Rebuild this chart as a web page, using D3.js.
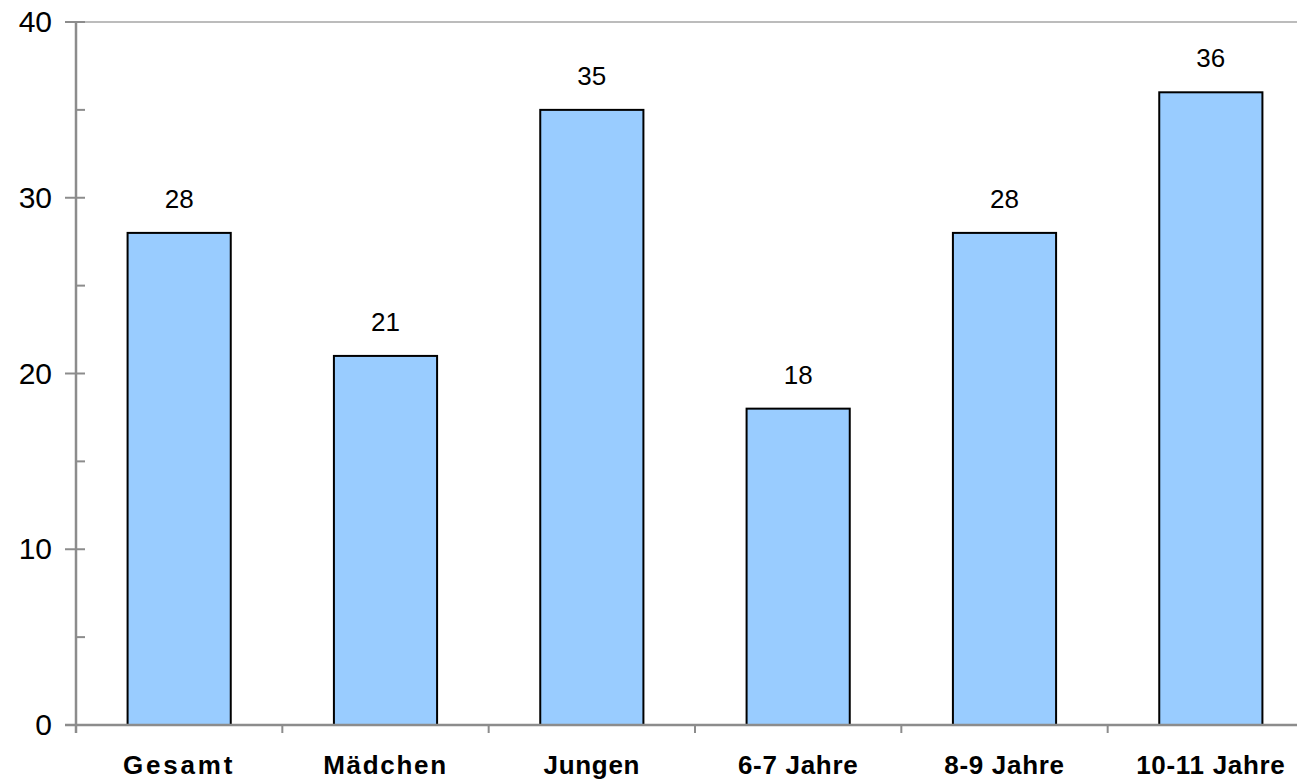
<!DOCTYPE html>
<html>
<head>
<meta charset="utf-8">
<script src="https://cdn.jsdelivr.net/npm/d3@7"></script>
<style>
  html, body { margin: 0; padding: 0; background: #fff; overflow: hidden; }
  svg { display: block; font-family: "Liberation Sans", Arial, sans-serif; }
</style>
</head>
<body>
<div id="chart"></div>
<script>
// chart data
const categories = ['Gesamt', 'Mädchen', 'Jungen', '6-7 Jahre', '8-9 Jahre', '10-11 Jahre'];
const values = [28, 21, 35, 18, 28, 36];
const yTicks = [0, 10, 20, 30, 40];
const yMinorTicks = [5, 15, 25, 35];

const width = 1297, height = 779;
const margin = { left: 76, right: 1314, top: 22, bottom: 725 };

const svg = d3.select('#chart').append('svg')
    .attr('width', width)
    .attr('height', height);

const x = d3.scaleBand()
    .domain(categories)
    .range([margin.left, margin.right])
    .paddingInner(0.5)
    .paddingOuter(0.25);

const y = d3.scaleLinear()
    .domain([0, 40])
    .range([margin.bottom, margin.top]);

const axisColor = '#8c8c8c';

// top gridline at 40
svg.append('line')
    .attr('x1', margin.left).attr('x2', width)
    .attr('y1', y(40)).attr('y2', y(40))
    .style('stroke', '#a6a6a6')
    .style('stroke-width', 1.5);

// bars
svg.selectAll('.bar')
    .data(values)
    .enter().append('rect')
    .attr('class', 'bar')
    .attr('x', (d, i) => x(categories[i]))
    .attr('y', d => y(d))
    .attr('width', x.bandwidth())
    .attr('height', d => y(0) - y(d))
    .style('fill', '#99ccff')
    .style('stroke', '#000')
    .style('stroke-width', 2);

// value labels
svg.selectAll('.val')
    .data(values)
    .enter().append('text')
    .attr('class', 'val')
    .attr('x', (d, i) => x(categories[i]) + x.bandwidth() / 2)
    .attr('y', d => y(d) - 25)
    .attr('text-anchor', 'middle')
    .style('font-size', '26px')
    .style('fill', '#000')
    .text(d => d);

// y axis
const yAxis = svg.append('g');
yAxis.append('line')
    .attr('x1', margin.left).attr('x2', margin.left)
    .attr('y1', margin.top).attr('y2', margin.bottom + 8)
    .style('stroke', axisColor)
    .style('stroke-width', 2.5);

yAxis.selectAll('.major')
    .data(yTicks)
    .enter().append('line')
    .attr('x1', margin.left - 11).attr('x2', margin.left + 9)
    .attr('y1', d => y(d)).attr('y2', d => y(d))
    .style('stroke', axisColor)
    .style('stroke-width', 2);

yAxis.selectAll('.minor')
    .data(yMinorTicks)
    .enter().append('line')
    .attr('x1', margin.left).attr('x2', margin.left + 9)
    .attr('y1', d => y(d)).attr('y2', d => y(d))
    .style('stroke', axisColor)
    .style('stroke-width', 2);

yAxis.selectAll('.ylab')
    .data(yTicks)
    .enter().append('text')
    .attr('x', 52)
    .attr('y', d => y(d) + 10)
    .attr('text-anchor', 'end')
    .style('font-size', '30px')
    .style('fill', '#000')
    .text(d => d);

// x axis baseline + ticks between bands
const xAxis = svg.append('g');
xAxis.append('line')
    .attr('x1', margin.left - 11).attr('x2', width)
    .attr('y1', y(0)).attr('y2', y(0))
    .style('stroke', axisColor)
    .style('stroke-width', 2.5);

const boundaries = categories.map(c => x(c) - x.step() * x.paddingInner() / 2);
xAxis.selectAll('.xtick')
    .data(boundaries)
    .enter().append('line')
    .attr('x1', d => d).attr('x2', d => d)
    .attr('y1', y(0)).attr('y2', y(0) + 8)
    .style('stroke', axisColor)
    .style('stroke-width', 2);

// the first two labels are set wider in the original
const spacing = d => d === 'Gesamt' ? '2.8px' : d === 'Mädchen' ? '1.7px' : '0.7px';
xAxis.selectAll('.xlab')
    .data(categories)
    .enter().append('text')
    .attr('x', d => x(d) + x.bandwidth() / 2)
    .attr('y', 774)
    .attr('text-anchor', 'middle')
    .style('font-size', '26px')
    .style('font-weight', 'bold')
    .style('letter-spacing', spacing)
    .style('fill', '#000')
    .text(d => d);
</script>
</body>
</html>
